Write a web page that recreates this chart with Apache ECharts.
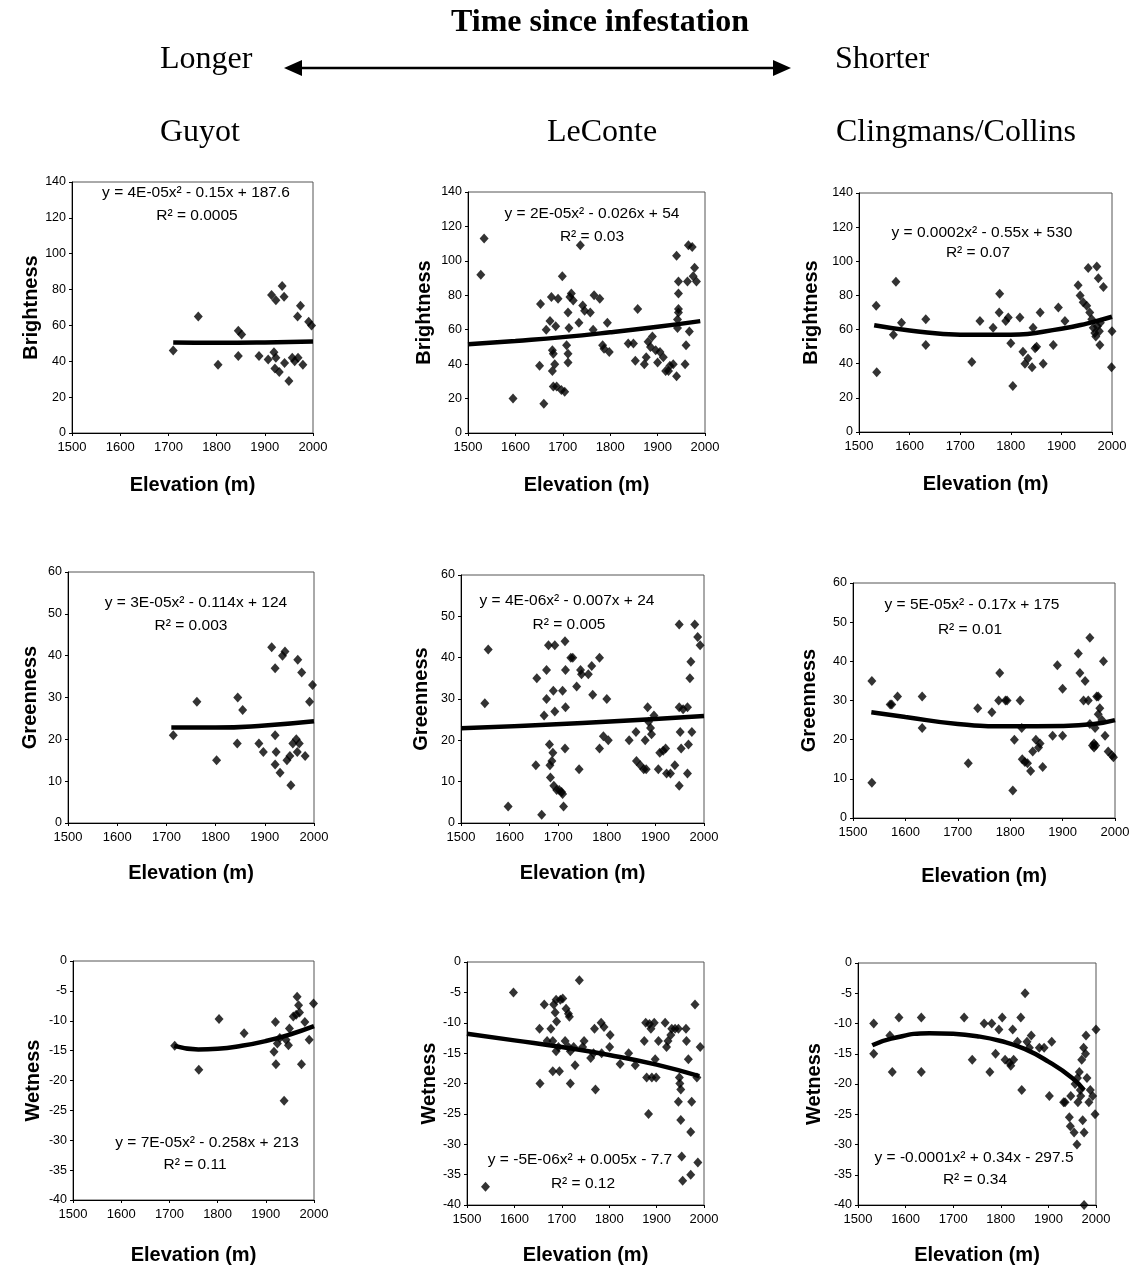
<!DOCTYPE html>
<html>
<head>
<meta charset="utf-8">
<script src="https://cdn.jsdelivr.net/npm/echarts@6/dist/echarts.min.js"></script>
<style>
html,body{margin:0;padding:0;background:#fff;}
#c{width:1134px;height:1270px;}
</style>
</head>
<body>
<div id="c"></div>
<script>
// ---------- DATA ----------
const elevationTicks = [1500, 1600, 1700, 1800, 1900, 2000];
const sites = ['Guyot', 'LeConte', 'Clingmans/Collins'];
const indices = ['Brightness', 'Greenness', 'Wetness'];

const guyotBrightness = [[1710,46],[1762,65],[1803,38],[1845,57],[1852,55],[1845,43],[1888,43],[1907,41],[1914,77],[1919,45],[1923,74],[1923,42],[1921,36],[1930,34],[1936,82],[1940,76],[1941,39],[1950,29],[1957,42],[1962,40],[1968,65],[1969,42],[1974,71],[1979,38],[1991,62],[1997,60]];
const guyotBrightnessTrend = [[1710,50.5],[1800,50.3],[1900,50.5],[2000,51]];

const leconteBrightness = [[1527,92],[1534,113],[1595,20],[1651,39],[1653,75],[1660,17],[1665,60],[1673,65],[1676,79],[1678,48],[1680,46],[1678,36],[1683,40],[1685,62],[1690,78],[1680,27],[1687,27],[1697,25],[1704,24],[1699,91],[1708,51],[1711,46],[1711,41],[1713,61],[1711,70],[1715,79],[1718,81],[1722,77],[1734,64],[1737,109],[1742,74],[1746,71],[1758,70],[1764,60],[1766,80],[1778,78],[1784,51],[1787,49],[1794,64],[1798,47],[1838,52],[1849,52],[1853,42],[1858,72],[1872,40],[1876,44],[1880,53],[1885,50],[1889,56],[1896,48],[1900,41],[1905,47],[1912,44],[1917,36],[1923,36],[1926,39],[1933,40],[1940,103],[1940,33],[1944,72],[1944,70],[1944,81],[1944,88],[1942,66],[1942,61],[1958,40],[1960,51],[1963,88],[1965,109],[1967,59],[1973,108],[1975,91],[1978,96],[1982,88]];
const leconteBrightnessTrend = [[1500,51.5],[1600,53.5],[1700,55.7],[1800,58.5],[1900,61.7],[1990,65]];

const clingmansBrightness = [[1534,74],[1535,35],[1568,57],[1573,88],[1584,64],[1632,66],[1632,51],[1723,41],[1739,65],[1765,61],[1777,70],[1778,81],[1790,65],[1795,67],[1800,52],[1804,27],[1818,67],[1824,47],[1828,40],[1834,43],[1844,61],[1842,38],[1848,49],[1851,50],[1858,70],[1864,40],[1884,51],[1894,73],[1907,65],[1933,86],[1937,80],[1943,76],[1950,74],[1953,96],[1956,70],[1960,66],[1963,61],[1966,58],[1968,56],[1970,97],[1971,62],[1973,90],[1975,59],[1977,64],[1976,51],[1983,85],[2000,59],[1999,38]];
const clingmansBrightnessTrend = [[1530,62.5],[1600,59.5],[1700,57],[1800,57],[1900,60.5],[1950,63.5],[2000,67.5]];

const guyotGreenness = [[1714,21],[1762,29],[1802,15],[1845,30],[1855,27],[1844,19],[1888,19],[1897,17],[1914,42],[1921,37],[1921,21],[1923,17],[1921,14],[1931,12],[1936,40],[1941,41],[1945,15],[1951,16],[1953,9],[1957,19],[1964,20],[1967,39],[1966,17],[1970,19],[1975,36],[1982,16],[1991,29],[1997,33]];
const guyotGreennessTrend = [[1710,22.8],[1800,22.8],[1900,23.3],[2000,24.3]];

const leconteGreenness = [[1549,29],[1556,42],[1597,4],[1654,14],[1656,35],[1666,2],[1671,26],[1676,37],[1676,30],[1680,43],[1682,19],[1683,14],[1687,15],[1689,17],[1684,11],[1690,32],[1693,27],[1693,43],[1691,9],[1697,8],[1702,8],[1707,7.5],[1709,7],[1709,32],[1711,4],[1714,44],[1715,37],[1715,28],[1714,18],[1726,40],[1730,40],[1738,33],[1743,13],[1746,37],[1748,36],[1762,36],[1769,38],[1771,31],[1785,40],[1785,18],[1793,21],[1800,30],[1803,20],[1846,20],[1860,22],[1861,15],[1869,14],[1876,13],[1881,13],[1879,20],[1884,28],[1886,24.5],[1890,23],[1892,21.5],[1897,26],[1906,13],[1909,17],[1916,17.5],[1921,18],[1923,12],[1931,12],[1940,14],[1949,9],[1949,48],[1949,28],[1951,22],[1953,18],[1957,27.5],[1966,12],[1966,28],[1968,19],[1971,35],[1973,39],[1975,22],[1981,48],[1987,45],[1992,43]];
const leconteGreennessTrend = [[1500,22.9],[1750,24.2],[2000,25.9]];

const clingmansGreenness = [[1536,35],[1536,9],[1571,29],[1574,29],[1585,31],[1632,31],[1632,23],[1720,14],[1738,28],[1765,27],[1780,37],[1778,30],[1791,30],[1794,30],[1805,7],[1808,20],[1819,30],[1822,23],[1823,15],[1828,14.3],[1833,14],[1839,12],[1843,17],[1849,20],[1854,18],[1857,19],[1862,13],[1881,21],[1890,39],[1900,33],[1900,21],[1930,42],[1933,37],[1943,35],[1940,30],[1949,30],[1952,46],[1952,24],[1957,18.5],[1960,19],[1963,18.5],[1960,18],[1962,23],[1965,31],[1968,31],[1971,28],[1968,26.5],[1975,25],[1978,40],[1981,21],[1987,17],[1994,16],[1997,15.5]];
const clingmansGreennessTrend = [[1535,27],[1600,25.8],[1700,24],[1800,23.4],[1900,23.5],[1960,24],[2000,25]];

const guyotWetness = [[1711,-14.2],[1761,-18.2],[1803,-9.7],[1855,-12.1],[1920,-10.2],[1917,-15.2],[1921,-17.3],[1924,-13.8],[1929,-12.9],[1938,-23.4],[1942,-13.2],[1947,-14.1],[1949,-11.3],[1957,-9.3],[1963,-9],[1965,-6],[1968,-7.4],[1970,-8.6],[1974,-17.3],[1981,-10.2],[1990,-13.2],[1999,-7.1]];
const guyotWetnessTrend = [[1710,-14.2],[1760,-14.8],[1800,-14.7],[1850,-14.2],[1900,-13.4],[1950,-12.3],[2000,-10.9]];

const leconteWetness = [[1539,-37],[1598,-5],[1654,-20],[1653,-11],[1663,-7],[1669,-13],[1677,-11],[1681,-13],[1681,-18],[1683,-7],[1686,-8.3],[1688,-6.2],[1689,-9.8],[1688,-14.7],[1693,-14],[1695,-18],[1697,-6.2],[1702,-6],[1709,-7.7],[1714,-8.5],[1716,-9],[1707,-13],[1714,-14],[1718,-14.7],[1718,-20],[1725,-14],[1728,-17],[1737,-3],[1744,-14],[1747,-13],[1761,-15.8],[1767,-15],[1769,-11],[1771,-21],[1783,-10],[1789,-10.7],[1801,-14],[1802,-12],[1784,-15],[1823,-16.8],[1841,-15],[1855,-17],[1874,-13],[1877,-10],[1879,-19],[1883,-25],[1885,-10.2],[1888,-11],[1890,-19],[1895,-10],[1897,-16],[1899,-19],[1904,-13],[1918,-10],[1921,-14],[1924,-13],[1930,-12],[1932,-11],[1939,-11],[1946,-11],[1946,-23],[1948,-19],[1949,-20],[1951,-21],[1951,-26],[1953,-32],[1955,-36],[1962,-11],[1963,-13],[1967,-16],[1972,-28],[1974,-23],[1972,-35],[1981,-7],[1985,-19],[1987,-33],[1992,-14]];
const leconteWetnessTrend = [[1500,-11.8],[1600,-12.9],[1700,-14.0],[1800,-15.3],[1900,-16.9],[1990,-18.8]];

const clingmansWetness = [[1533,-10],[1533,-15],[1567,-12],[1572,-18],[1586,-9],[1633,-9],[1633,-18],[1723,-9],[1740,-16],[1765,-10],[1777,-18],[1781,-10],[1789,-15],[1796,-11],[1803,-9],[1809,-16],[1818,-16.5],[1821,-17],[1825,-11],[1827,-16],[1835,-13],[1842,-9],[1844,-21],[1851,-5],[1855,-13],[1860,-14],[1864,-12],[1881,-14],[1891,-14],[1902,-22],[1907,-13],[1932,-23],[1935,-23],[1944,-25.5],[1947,-22],[1946,-27],[1954,-28],[1956,-20],[1960,-30],[1961,-19],[1962,-23],[1965,-18],[1967,-21],[1968,-22],[1970,-16],[1972,-26],[1974,-14],[1975,-28],[1975,-40],[1978,-15],[1979,-12],[1981,-19],[1985,-23],[1988,-21],[1993,-22],[1998,-25],[2000,-11]];
const clingmansWetnessTrend = [[1530,-13.6],[1570,-12.5],[1650,-11.6],[1700,-11.7],[1750,-12.1],[1800,-12.9],[1850,-14.2],[1900,-16.3],[1950,-19],[1975,-21]];

const equations = [
  ['y = 4E-05x² - 0.15x + 187.6', 'R² = 0.0005'],
  ['y = 2E-05x² - 0.026x + 54', 'R² = 0.03'],
  ['y = 0.0002x² - 0.55x + 530', 'R² = 0.07'],
  ['y = 3E-05x² - 0.114x + 124', 'R² = 0.003'],
  ['y = 4E-06x² - 0.007x + 24', 'R² = 0.005'],
  ['y = 5E-05x² - 0.17x + 175', 'R² = 0.01'],
  ['y = 7E-05x² - 0.258x + 213', 'R² = 0.11'],
  ['y = -5E-06x² + 0.005x - 7.7', 'R² = 0.12'],
  ['y = -0.0001x² + 0.34x - 297.5', 'R² = 0.34']
];

const yRanges = [[0,140,20],[0,60,10],[-40,0,5]];

// ---------- LAYOUT ----------
const panels = [
  {pts: guyotBrightness, trend: guyotBrightnessTrend, left:72, top:182, w:241, h:251, yGap:30, xGap:42, eq:[196,193,197,216]},
  {pts: leconteBrightness, trend: leconteBrightnessTrend, left:468, top:192, w:237, h:241, yGap:34, xGap:42, eq:[592,214,592,237]},
  {pts: clingmansBrightness, trend: clingmansBrightnessTrend, left:859, top:193, w:253, h:239, yGap:38, xGap:42, eq:[982,233,978,253]},
  {pts: guyotGreenness, trend: guyotGreennessTrend, left:68, top:572, w:246, h:251, yGap:28, xGap:40, eq:[196,603,191,626]},
  {pts: leconteGreenness, trend: leconteGreennessTrend, left:461, top:575, w:243, h:248, yGap:30, xGap:40, eq:[567,601,569,625]},
  {pts: clingmansGreenness, trend: clingmansGreennessTrend, left:853, top:583, w:262, h:235, yGap:34, xGap:48, eq:[972,605,970,630]},
  {pts: guyotWetness, trend: guyotWetnessTrend, left:73, top:961, w:241, h:239, yGap:30, xGap:45, eq:[207,1143,195,1165]},
  {pts: leconteWetness, trend: leconteWetnessTrend, left:467, top:962, w:237, h:243, yGap:28, xGap:40, eq:[580,1160,583,1184]},
  {pts: clingmansWetness, trend: clingmansWetnessTrend, left:858, top:963, w:238, h:242, yGap:34, xGap:40, eq:[974,1158,975,1180]}
];

const SANS = '"Liberation Sans", Arial, sans-serif';
const SERIF = '"Liberation Serif", "Times New Roman", serif';

const grid = [], xAxis = [], yAxis = [], series = [], graphic = [];

panels.forEach((p, i) => {
  const row = Math.floor(i / 3);
  const yr = yRanges[row];
  grid.push({left: p.left, top: p.top, width: p.w, height: p.h, show: true, borderColor: '#555', borderWidth: 1, backgroundColor: 'transparent'});
  xAxis.push({
    gridIndex: i, type: 'value', min: elevationTicks[0], max: elevationTicks[elevationTicks.length - 1], interval: 100,
    name: 'Elevation (m)', nameLocation: 'middle', nameGap: p.xGap,
    nameTextStyle: {fontFamily: SANS, fontWeight: 'bold', fontSize: 20, color: '#000'},
    axisLine: {onZero: false, lineStyle: {color: '#000', width: 1}},
    axisTick: {show: true, length: 3, lineStyle: {color: '#000'}},
    axisLabel: {fontFamily: SANS, fontSize: 13, color: '#000', margin: 8, formatter: v => String(v)},
    splitLine: {show: false}
  });
  yAxis.push({
    gridIndex: i, type: 'value', min: yr[0], max: yr[1], interval: yr[2],
    name: indices[row], nameLocation: 'middle', nameGap: p.yGap, nameRotate: 90,
    nameTextStyle: {fontFamily: SANS, fontWeight: 'bold', fontSize: 20, color: '#000'},
    axisLine: {onZero: false, lineStyle: {color: '#000', width: 1}},
    axisTick: {show: true, length: 3, lineStyle: {color: '#000'}},
    axisLabel: {fontFamily: SANS, fontSize: 12.5, color: '#000', margin: 6, formatter: v => String(v)},
    splitLine: {show: false}
  });
  series.push({
    type: 'line', xAxisIndex: i, yAxisIndex: i, data: p.trend, smooth: true,
    symbol: 'none', showSymbol: false, silent: true, z: 2,
    lineStyle: {color: '#000', width: 4.5}
  });
  series.push({
    type: 'scatter', xAxisIndex: i, yAxisIndex: i, data: p.pts,
    symbol: 'diamond', symbolSize: [9, 10], z: 3,
    itemStyle: {color: '#000'}
  });
  const e = equations[i];
  graphic.push({type: 'text', z: 10, style: {text: e[0], x: p.eq[0], y: p.eq[1], align: 'center', verticalAlign: 'middle', textAlign: 'center', textVerticalAlign: 'middle', font: '15.5px ' + SANS, fill: '#000'}});
  graphic.push({type: 'text', z: 10, style: {text: e[1], x: p.eq[2], y: p.eq[3], align: 'center', verticalAlign: 'middle', textAlign: 'center', textVerticalAlign: 'middle', font: '15.5px ' + SANS, fill: '#000'}});
});

// header
const hdr = (text, x, y, align, bold) => ({type: 'text', style: {text, x, y, align, verticalAlign: 'middle', textAlign: align, textVerticalAlign: 'middle', font: (bold ? 'bold ' : '') + '32px ' + SERIF, fill: '#000'}});
graphic.push(hdr('Time since infestation', 600, 23, 'center', true));
graphic.push(hdr('Longer', 160, 60, 'left', false));
graphic.push(hdr('Shorter', 835, 60, 'left', false));
graphic.push(hdr(sites[0], 160, 133, 'left', false));
graphic.push(hdr(sites[1], 602, 133, 'center', false));
graphic.push(hdr(sites[2], 836, 133, 'left', false));
graphic.push({type: 'line', shape: {x1: 298, y1: 68, x2: 777, y2: 68}, style: {stroke: '#000', lineWidth: 2.5}});
graphic.push({type: 'polygon', shape: {points: [[284, 68], [302, 60], [302, 76]]}, style: {fill: '#000'}});
graphic.push({type: 'polygon', shape: {points: [[791, 68], [773, 60], [773, 76]]}, style: {fill: '#000'}});

const chart = echarts.init(document.getElementById('c'), null, {renderer: 'canvas'});
chart.setOption({
  animation: false,
  backgroundColor: '#fff',
  grid, xAxis, yAxis, series, graphic
});
</script>
</body>
</html>
